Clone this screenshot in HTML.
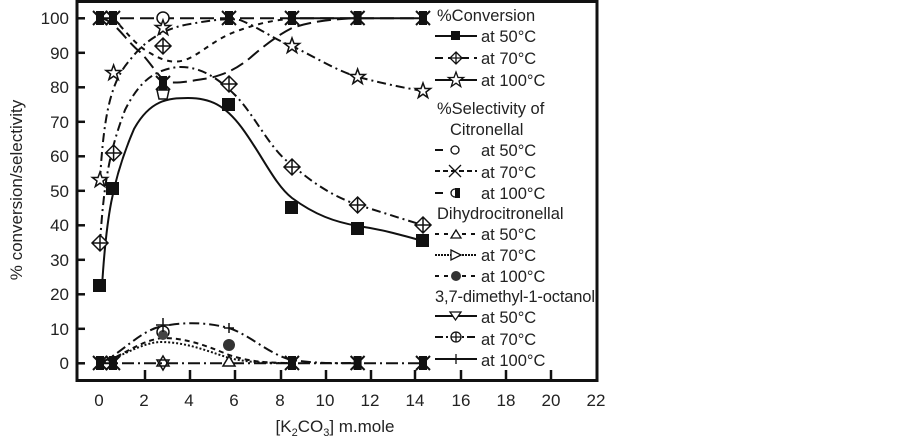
<!DOCTYPE html>
<html><head><style>
body{margin:0;background:#fff;}
svg{display:block;font-family:"Liberation Sans",Arial,sans-serif;}
</style></head><body>
<svg width="903" height="443" viewBox="0 0 903 443" xmlns="http://www.w3.org/2000/svg">
<defs>
<path id="st" d="M0,-8 L2,-2.5 L7.6,-2.5 L3,1 L4.7,6.5 L0,3.2 L-4.7,6.5 L-3,1 L-7.6,-2.5 L-2,-2.5Z"/>
<g id="xm"><path d="M-7,-7 L7,7 M-7,7 L7,-7"/><rect x="-3" y="-6" width="6" height="12"/></g>
</defs>
<rect x="0" y="0" width="903" height="443" fill="#fff"/>
<rect x="77" y="1.5" width="520" height="379" fill="none" stroke="#111" stroke-width="3"/>
<g stroke="#111" stroke-width="2.5">
<line x1="145" y1="380" x2="145" y2="370"/><line x1="190" y1="380" x2="190" y2="370"/>
<line x1="235" y1="380" x2="235" y2="370"/><line x1="281" y1="380" x2="281" y2="370"/>
<line x1="326" y1="380" x2="326" y2="370"/><line x1="371" y1="380" x2="371" y2="370"/>
<line x1="415" y1="380" x2="415" y2="370"/><line x1="461" y1="380" x2="461" y2="370"/>
<line x1="506" y1="380" x2="506" y2="370"/><line x1="551" y1="380" x2="551" y2="370"/>
</g>
<g stroke="#111" stroke-width="2.5">
<line x1="77" y1="18.3" x2="85" y2="18.3"/><line x1="77" y1="52.8" x2="85" y2="52.8"/>
<line x1="77" y1="87.3" x2="85" y2="87.3"/><line x1="77" y1="121.8" x2="85" y2="121.8"/>
<line x1="77" y1="156.3" x2="85" y2="156.3"/><line x1="77" y1="190.8" x2="85" y2="190.8"/>
<line x1="77" y1="225.3" x2="85" y2="225.3"/><line x1="77" y1="259.8" x2="85" y2="259.8"/>
<line x1="77" y1="294.3" x2="85" y2="294.3"/><line x1="77" y1="328.8" x2="85" y2="328.8"/>
<line x1="77" y1="363.3" x2="85" y2="363.3"/>
</g>
<g font-size="17" fill="#222" text-anchor="end">
<text x="69" y="24">100</text><text x="69" y="59">90</text><text x="69" y="93">80</text>
<text x="69" y="128">70</text><text x="69" y="162">60</text><text x="69" y="197">50</text>
<text x="69" y="231">40</text><text x="69" y="266">30</text><text x="69" y="300">20</text>
<text x="69" y="335">10</text><text x="69" y="369">0</text>
</g>
<g font-size="17" fill="#222" text-anchor="middle">
<text x="99" y="406">0</text><text x="144" y="406">2</text><text x="189" y="406">4</text>
<text x="234" y="406">6</text><text x="280" y="406">8</text><text x="325" y="406">10</text>
<text x="370" y="406">12</text><text x="415" y="406">14</text><text x="461" y="406">16</text>
<text x="506" y="406">18</text><text x="551" y="406">20</text><text x="596" y="406">22</text>
</g>
<text x="335" y="432" font-size="17" fill="#222" text-anchor="middle">[K<tspan font-size="11" dy="4">2</tspan><tspan dy="-4">CO</tspan><tspan font-size="11" dy="4">3</tspan><tspan dy="-4">] m.mole</tspan></text>
<text transform="translate(22,190) rotate(-90)" font-size="17" fill="#222" text-anchor="middle">% conversion/selectivity</text>

<g fill="none" stroke="#111" stroke-width="2">
<line x1="100" y1="18.3" x2="423" y2="18.3" stroke-dasharray="14,6"/>
<line x1="292" y1="18.3" x2="423" y2="18.3"/>
<path d="M102,287 C106,220 112,180 134,129 C150,100 168,98 188,98 C210,98 225,105 242,128 C262,155 275,185 292,198 C315,215 335,222 358,226 C385,230 405,236 423,241"/>
<path d="M100,243 C104,180 110,150 125,110 C140,80 155,70 178,67 C200,66 218,78 235,95 C255,115 270,150 292,165 C315,185 335,197 358,205 C385,213 405,220 423,225" stroke-dasharray="9,4,2,4"/>
<path d="M100,180 C104,110 112,80 130,60 C145,40 165,28 190,24 C212,20 228,18 240,20 C260,28 275,40 292,46 C315,57 335,70 358,77 C385,84 405,88 423,91" stroke-dasharray="9,4,2,4"/>
<path d="M100,18 C115,20 125,40 140,52 C150,62 158,76 166,82 C180,84 195,80 210,78 C225,74 235,70 250,58 C265,45 278,35 292,28 C315,20 340,19 358,18" stroke-dasharray="14,6"/>
<path d="M113,18 C125,30 135,45 150,53 C162,60 172,64 185,60 C200,55 215,38 240,30 C255,25 270,20 292,19" stroke-dasharray="5,5"/>
<line x1="100" y1="363.3" x2="423" y2="363.3" stroke-dasharray="12,4,2,4"/>
<path d="M100,363 C120,355 140,330 163,326 C185,322 205,322 229,328 C250,335 270,355 292,360 C320,364 340,363 358,363" stroke-dasharray="10,4,2,4"/>
<path d="M100,363 C120,358 140,340 163,338 C185,338 205,345 229,355 C250,362 270,363 292,363" stroke-dasharray="5,4"/>
<path d="M100,363 C120,358 140,343 160,342 C185,342 205,350 229,358 C250,363 270,363 292,363" stroke-dasharray="2,2"/>
</g>
<g fill="#111">
<rect x="93" y="279" width="13" height="13"/><rect x="106" y="182" width="13" height="13"/>
<rect x="222" y="98" width="13" height="13"/><rect x="285" y="201" width="13" height="13"/>
<rect x="351" y="222" width="13" height="13"/><rect x="416" y="234" width="13" height="13"/>
</g>
<g fill="#fff" stroke="#111" stroke-width="1.5">
<path d="M100,235 l8,8 l-8,8 l-8,-8z M92,243 h16 M100,235 v16"/>
<path d="M113.6,145 l8,8 l-8,8 l-8,-8z M105.6,153 h16 M113.6,145 v16"/>
<path d="M163,38 l8,8 l-8,8 l-8,-8z M155,46 h16 M163,38 v16"/>
<path d="M229,76 l8,8 l-8,8 l-8,-8z M221,84 h16 M229,76 v16"/>
<path d="M292,159 l8,8 l-8,8 l-8,-8z M284,167 h16 M292,159 v16"/>
<path d="M357.6,197 l8,8 l-8,8 l-8,-8z M349.6,205 h16 M357.6,197 v16"/>
<path d="M423,217 l8,8 l-8,8 l-8,-8z M415,225 h16 M423,217 v16"/>
<circle cx="163" cy="18" r="6"/>
</g>
<g fill="#fff" stroke="#111" stroke-width="1.5">
<use href="#st" x="100" y="180"/>
<use href="#st" x="113.6" y="73"/>
<use href="#st" x="163" y="28"/>
<use href="#st" x="292" y="46"/>
<use href="#st" x="357.6" y="77"/>
<use href="#st" x="423" y="91"/>
</g>
<g stroke="#111" stroke-width="2" fill="#111">
<use href="#xm" x="100" y="18"/><use href="#xm" x="113" y="18"/>
<use href="#xm" x="229" y="18"/><use href="#xm" x="292" y="18"/>
<use href="#xm" x="357.6" y="18"/><use href="#xm" x="423" y="18"/>
<use href="#xm" x="163" y="83"/>
<use href="#xm" x="100" y="363"/><use href="#xm" x="113" y="363"/>
<use href="#xm" x="292" y="363"/><use href="#xm" x="357.6" y="363"/>
<use href="#xm" x="423" y="363"/>
</g>
<g fill="#fff" stroke="#111" stroke-width="1.5">
<path d="M157,90 h12 l-2,9 h-8z"/>
<path d="M157,366 h12 l-6,-10z M157,360 h12 l-6,10z"/>
<path d="M223,366 h12 l-6,-10z"/>
<circle cx="163" cy="332" r="6"/>
</g>
<circle cx="229" cy="345" r="6" fill="#333"/>
<circle cx="163" cy="335" r="5" fill="#444"/>
<g stroke="#111" stroke-width="1.5"><path d="M163,318 v14 M156,325 h14 M229,323 v10 M224,328 h10"/></g>

<g font-size="16.5" fill="#222">
<text x="437" y="21">%Conversion</text>
<text x="481" y="42">at 50°C</text>
<text x="481" y="64">at 70°C</text>
<text x="481" y="86">at 100°C</text>
<text x="437" y="114">%Selectivity of</text>
<text x="450" y="135">Citronellal</text>
<text x="481" y="156">at 50°C</text>
<text x="481" y="178">at 70°C</text>
<text x="481" y="199">at 100°C</text>
<text x="437" y="219">Dihydrocitronellal</text>
<text x="481" y="240">at 50°C</text>
<text x="481" y="261">at 70°C</text>
<text x="481" y="282">at 100°C</text>
<text x="435" y="302" textLength="160">3,7-dimethyl-1-octanol</text>
<text x="481" y="323">at 50°C</text>
<text x="481" y="345">at 70°C</text>
<text x="481" y="366">at 100°C</text>
</g>
<g stroke="#111" stroke-width="2" fill="none">
<line x1="435" y1="36" x2="477" y2="36"/>
<line x1="435" y1="58" x2="477" y2="58" stroke-dasharray="8,5"/>
<line x1="435" y1="80" x2="477" y2="80"/>
<line x1="435" y1="150" x2="477" y2="150" stroke-dasharray="8,8,4,100"/>
<line x1="435" y1="171" x2="477" y2="171" stroke-dasharray="5,3"/>
<line x1="435" y1="193" x2="477" y2="193" stroke-dasharray="8,8,4,100"/>
<line x1="435" y1="234" x2="477" y2="234" stroke-dasharray="4,5"/>
<line x1="435" y1="255" x2="477" y2="255" stroke-dasharray="2,1"/>
<line x1="435" y1="276" x2="477" y2="276" stroke-dasharray="4,5"/>
<line x1="435" y1="316" x2="477" y2="316"/>
<line x1="435" y1="337" x2="477" y2="337" stroke-dasharray="8,3,2,3"/>
<line x1="435" y1="359" x2="477" y2="359"/>
</g>
<rect x="451" y="31" width="9" height="9" fill="#111"/>
<g fill="#fff" stroke="#111" stroke-width="1.3">
<path d="M456,52 l6,6 l-6,6 l-6,-6z M450,58 h12 M456,52 v12"/>
<use href="#st" x="456" y="80"/>
<circle cx="455" cy="150" r="4"/>
<path d="M449,165 l12,12 M449,177 l12,-12"/>
<path d="M451,193 a4,4 0 1,1 8,0 a4,4 0 1,1 -8,0z"/>
<path d="M451,238 l5,-8 l5,8z"/>
<path d="M451,250 l10,5 l-10,5z"/>
<path d="M450,312 h11 l-5.5,8z"/>
<circle cx="456" cy="337" r="5"/><path d="M451,337 h10 M456,332 v10"/>
<path d="M456,354 v10"/>
</g>
<circle cx="456" cy="276" r="5" fill="#333"/>
<rect x="455" y="188" width="5" height="10" fill="#111"/>
</svg>
</body></html>
